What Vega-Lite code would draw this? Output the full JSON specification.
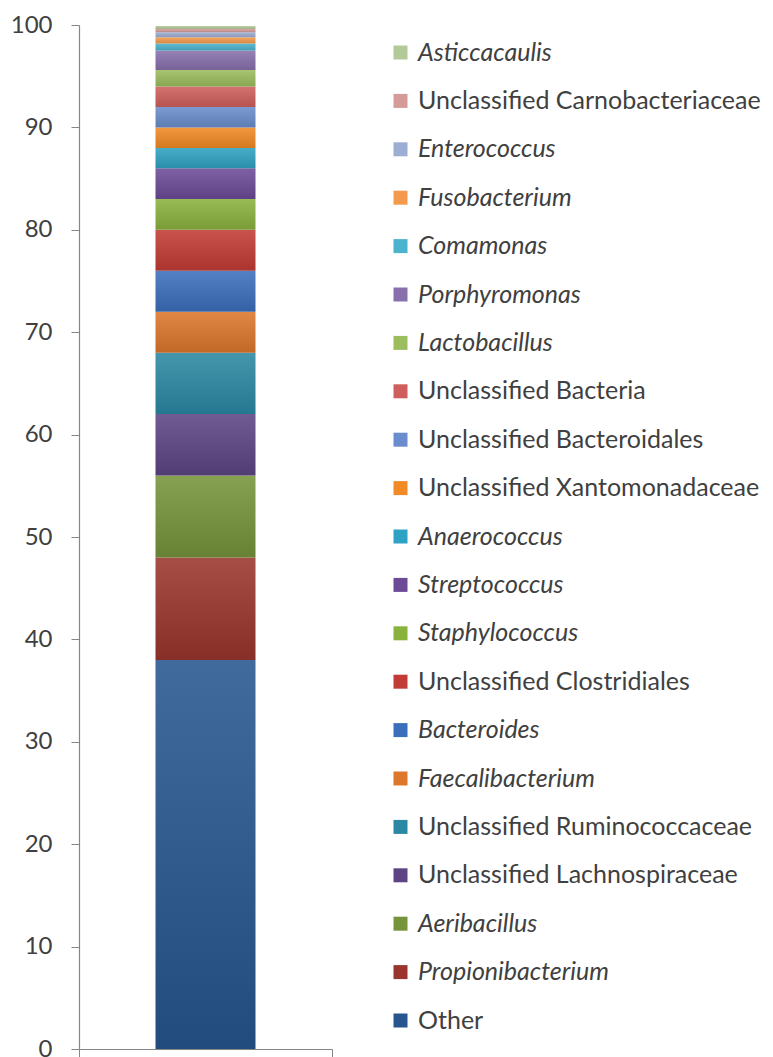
{
  "$schema": "https://vega.github.io/schema/vega-lite/v6.json",
  "autosize": "none",
  "width": 253,
  "height": 1024,
  "padding": {"left": 79, "top": 25, "right": 441, "bottom": 8},
  "background": "white",
  "config": {
    "view": {"stroke": null},
    "font": "Lato"
  },
  "data": {
    "values": [
      {"sample": "S", "taxon": "Other", "pct": 38, "rank": 1},
      {"sample": "S", "taxon": "Propionibacterium", "pct": 10, "rank": 2},
      {"sample": "S", "taxon": "Aeribacillus", "pct": 8, "rank": 3},
      {"sample": "S", "taxon": "Unclassified Lachnospiraceae", "pct": 6, "rank": 4},
      {"sample": "S", "taxon": "Unclassified Ruminococcaceae", "pct": 6, "rank": 5},
      {"sample": "S", "taxon": "Faecalibacterium", "pct": 4, "rank": 6},
      {"sample": "S", "taxon": "Bacteroides", "pct": 4, "rank": 7},
      {"sample": "S", "taxon": "Unclassified Clostridiales", "pct": 4, "rank": 8},
      {"sample": "S", "taxon": "Staphylococcus", "pct": 3, "rank": 9},
      {"sample": "S", "taxon": "Streptococcus", "pct": 3, "rank": 10},
      {"sample": "S", "taxon": "Anaerococcus", "pct": 2, "rank": 11},
      {"sample": "S", "taxon": "Unclassified Xantomonadaceae", "pct": 2, "rank": 12},
      {"sample": "S", "taxon": "Unclassified Bacteroidales", "pct": 2, "rank": 13},
      {"sample": "S", "taxon": "Unclassified Bacteria", "pct": 2, "rank": 14},
      {"sample": "S", "taxon": "Lactobacillus", "pct": 1.6, "rank": 15},
      {"sample": "S", "taxon": "Porphyromonas", "pct": 1.9, "rank": 16},
      {"sample": "S", "taxon": "Comamonas", "pct": 0.7, "rank": 17},
      {"sample": "S", "taxon": "Fusobacterium", "pct": 0.6, "rank": 18},
      {"sample": "S", "taxon": "Enterococcus", "pct": 0.5, "rank": 19},
      {"sample": "S", "taxon": "Unclassified Carnobacteriaceae", "pct": 0.3, "rank": 20},
      {"sample": "S", "taxon": "Asticcacaulis", "pct": 0.3, "rank": 21}
    ]
  },
  "encoding": {
    "x": {
      "field": "sample",
      "type": "nominal",
      "scale": {"paddingInner": 0, "paddingOuter": 0},
      "axis": {
        "title": null,
        "labels": false,
        "tickBand": "extent",
        "ticks": true,
        "tickSize": 8,
        "tickColor": "#868686",
        "domainColor": "#868686",
        "domainWidth": 1.2
      }
    },
    "y": {
      "field": "pct",
      "type": "quantitative",
      "stack": "zero",
      "scale": {"domain": [0, 100], "nice": false},
      "axis": {
        "title": null,
        "values": [0, 10, 20, 30, 40, 50, 60, 70, 80, 90, 100],
        "grid": false,
        "tickSize": 8,
        "tickColor": "#868686",
        "domainColor": "#868686",
        "domainWidth": 1.2,
        "labelFontSize": 24,
        "labelColor": "#404040",
        "labelPadding": 19,
        "labelFont": "Lato"
      }
    },
    "order": {"field": "rank", "type": "quantitative"}
  },
  "layer": [
    {
      "mark": {"type": "bar", "width": {"band": 0.395}},
      "encoding": {
        "color": {
          "field": "taxon",
          "type": "nominal",
          "scale": {
            "domain": [
              "Asticcacaulis", "Unclassified Carnobacteriaceae", "Enterococcus", "Fusobacterium",
              "Comamonas", "Porphyromonas", "Lactobacillus", "Unclassified Bacteria",
              "Unclassified Bacteroidales", "Unclassified Xantomonadaceae", "Anaerococcus",
              "Streptococcus", "Staphylococcus", "Unclassified Clostridiales", "Bacteroides",
              "Faecalibacterium", "Unclassified Ruminococcaceae", "Unclassified Lachnospiraceae",
              "Aeribacillus", "Propionibacterium", "Other"
            ],
            "range": [
              "#B3C998", "#D49B99", "#9DAED4", "#F39A4E",
              "#4BB3CD", "#8870AC", "#9BBD5E", "#CF5F5C",
              "#6B8DCD", "#F28A25", "#2EA2C2",
              "#6C4A98", "#8AB23F", "#C23B34", "#3B6FBC",
              "#DD772C", "#2A88A2", "#5D4484",
              "#76943B", "#9A352D", "#27568F"
            ]
          },
          "legend": {
            "title": null,
            "orient": "none",
            "legendX": 309,
            "legendY": 15,
            "symbolType": "square",
            "symbolSize": 196,
            "symbolStrokeWidth": 0,
            "labelFontSize": 25,
            "labelFont": "Lato",
            "labelColor": "#404040",
            "labelOffset": 5,
            "labelLimit": 420,
            "rowPadding": 22.4,
            "labelFontStyle": {"expr": "test(/^(Unclassified|Other)/, datum.label) ? 'normal' : 'italic'"}
          }
        }
      }
    },
    {
      "mark": {
        "type": "bar",
        "width": {"band": 0.395},
        "color": {
          "gradient": "linear",
          "x1": 0, "y1": 0, "x2": 0, "y2": 1,
          "stops": [
            {"offset": 0, "color": "rgba(255,255,255,0.12)"},
            {"offset": 1, "color": "rgba(0,0,0,0.12)"}
          ]
        }
      },
      "encoding": {
        "detail": {"field": "taxon"}
      }
    }
  ]
}
